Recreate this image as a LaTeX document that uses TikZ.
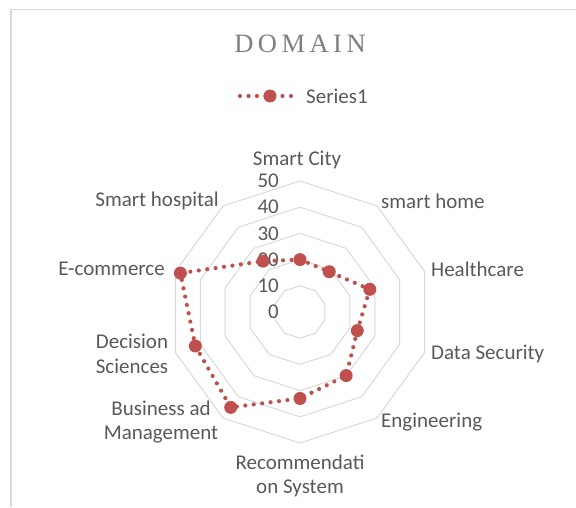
\documentclass[tikz,border=0pt]{standalone}
\usepackage{fontspec}
\setmainfont{Carlito}
\newfontfamily\titlefont[LetterSpace=17]{Liberation Serif}
\definecolor{lbl}{HTML}{595959}
\definecolor{ttl}{HTML}{7F7F7F}
\definecolor{serred}{HTML}{C0504D}
\definecolor{grd}{HTML}{D9D9D9}

\begin{document}
\begin{tikzpicture}[x=1pt,y=1pt,
  lab/.style={text=lbl,font=\fontsize{21}{24.5}\selectfont,inner sep=0pt,align=center},
  ring/.style={draw=grd,line width=1pt},
  series/.style={draw=serred,line width=4.2pt,line cap=round,dash pattern=on 0pt off 8.5pt},
  dot/.style={circle,fill=serred,inner sep=0pt,minimum size=13pt}]
\useasboundingbox (0,0) rectangle (576,507);
\draw[grd,line width=1.3pt](11,0)--(11,497.7)--(576,497.7);
% title and legend
\node[text=ttl,font=\titlefont\fontsize{26.5}{30}\selectfont] (title) at (300,463) {DOMAIN};
\coordinate (lgA) at (240,411);
\coordinate (lgB) at (296,411);
\draw[series](lgA)--(lgB);
\node[dot] (lgm) at (270,411) {};
\node[lab,anchor=west] (lgt) at (306,411) {Series1};
% radar
\begin{scope}[shift={(300,195)}]
\foreach \r in {1,...,5}
  \draw[ring](90:26.2*\r) \foreach \a in {1,...,9}{--(90-36*\a:26.2*\r)} --cycle;
\foreach \t in {0,10,...,50}
  \node[lab,anchor=east] (tick\t) at (-21,2.62*\t) {\t};
\foreach \v [count=\i] in {20,19,28,23,30,33,45,42,48,24}
  \coordinate (p\i) at ({126-36*\i}:2.62*\v);
\draw[series](p1)--(p2)--(p3)--(p4)--(p5)--(p6)--(p7)--(p8)--(p9)--(p10)--cycle;
\foreach \i in {1,...,10}
  \node[dot] (m\i) at (p\i) {};
% category labels
\node[lab] (city) at (-3,152) {Smart City};
\node[lab,anchor=west] (home) at (81,111) {smart home};
\node[lab,anchor=west] (health) at (131,43) {Healthcare};
\node[lab,anchor=west] (secur) at (131,-42) {Data Security};
\node[lab,anchor=west] (engin) at (81,-110) {Engineering};
\node[lab] (recom) at (0,-164) {Recommendati\\on System};
\node[lab] (busin) at (-139,-110) {Business ad\\Management};
\node[lab] (decis) at (-168,-42) {Decision\\Sciences};
\node[lab,anchor=east] (ecomm) at (-135,43) {E-commerce};
\node[lab,anchor=east] (hosp) at (-81,111) {Smart hospital};
\end{scope}
\end{tikzpicture}
\end{document}
